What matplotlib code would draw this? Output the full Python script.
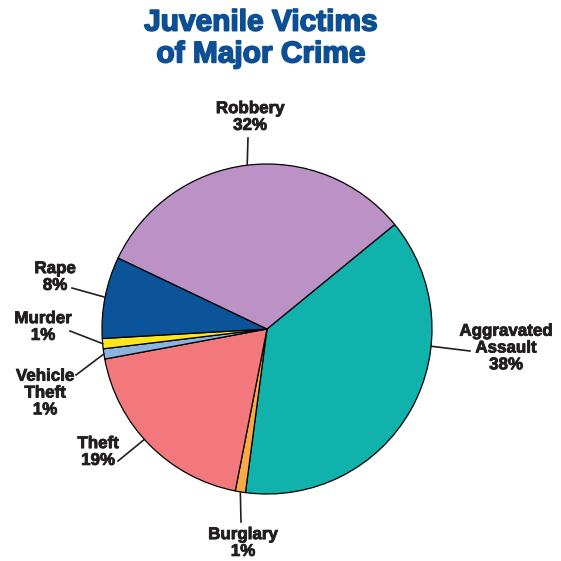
import numpy as np
import matplotlib
matplotlib.use('Agg')
import matplotlib.pyplot as plt
import matplotlib.patheffects as pe

plt.rcParams['font.family'] = ['Liberation Sans', 'DejaVu Sans']

# Data
categories = ["Aggravated\nAssault", "Burglary", "Theft", "Vehicle\nTheft",
              "Murder", "Rape", "Robbery"]
shares = [38, 1, 19, 1, 1, 8, 32]
colors = ["#10b2ab", "#f7a945", "#f2787b", "#8ab3e0",
          "#ffe61c", "#0c5499", "#bc91c5"]

# layout in pixel coordinates (y measured from top)
W = H = 561
cx, cy, R = 267, 329, 165
start = 39.3

# label centre, line start (label side), angle where the line meets the pie
label_pos = [(506, 348), (243, 543), (98, 452), (45, 393), (43, 327), (55, 277), (250, 117)]
line_from = [(470, 351), (241, 522), (118, 461), (76, 375), (70, 331), (72, 288), (248, 138)]
line_angle = [-6.0, None, -138.0, None, None, None, None]

fig = plt.figure(figsize=(W / 100, H / 100), dpi=100)
ax = fig.add_axes([0, 0, 1, 1])

wedges, _ = ax.pie(shares, colors=colors, startangle=start, counterclock=False,
                   center=(cx, H - cy), radius=R, frame=True,
                   wedgeprops=dict(edgecolor='black', linewidth=0.9))
ax.set_xlim(0, W)
ax.set_ylim(0, H)
ax.set_aspect('equal')
ax.axis('off')

dark = '#231f20'
for i, w in enumerate(wedges):
    ang = line_angle[i] if line_angle[i] is not None else (w.theta1 + w.theta2) / 2
    ex = cx + R * np.cos(np.radians(ang))
    ey = (H - cy) + R * np.sin(np.radians(ang))
    lx, ly = line_from[i]
    ax.plot([lx, ex], [H - ly, ey], color=dark, lw=1.2)
    tx, ty = label_pos[i]
    ax.text(tx, H - ty, f"{categories[i]}\n{shares[i]}%", ha='center', va='center',
            fontsize=12.2, fontweight='bold', color=dark, linespacing=1.15,
            path_effects=[pe.withStroke(linewidth=0.6, foreground=dark)])

title_color = '#0d4f94'
ax.text(261, H - 38.5, "Juvenile Victims\nof Major Crime", ha='center', va='center',
        fontsize=21.5, fontweight='bold', color=title_color, linespacing=1.17,
        path_effects=[pe.withStroke(linewidth=1.2, foreground=title_color)])

plt.savefig("out.png", dpi=100)
